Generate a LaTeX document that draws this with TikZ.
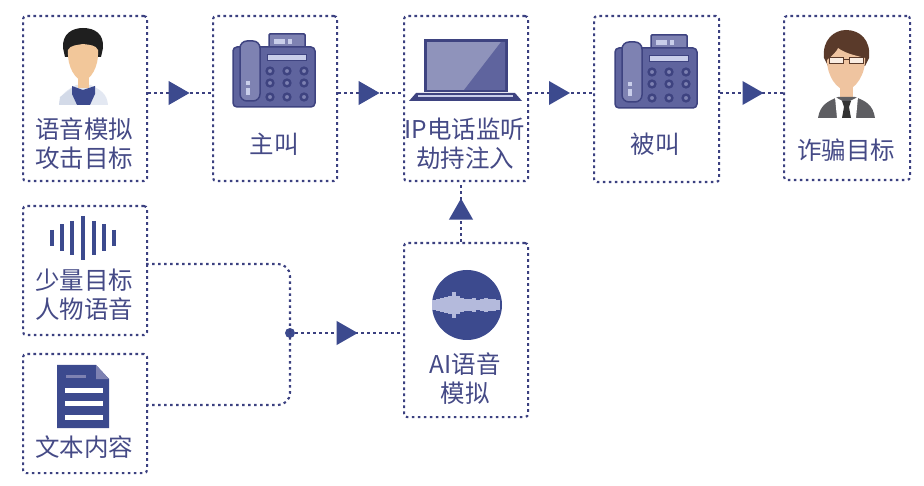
\documentclass[tikz,border=0pt]{standalone}
\usepackage{fontspec}
\setmainfont{Noto Sans CJK SC}
\usetikzlibrary{arrows.meta,decorations.markings,calc}
\definecolor{ink}{HTML}{3B4080}
\definecolor{tri}{HTML}{3C4A8E}
\definecolor{txt}{HTML}{454A86}
\definecolor{ph}{HTML}{5F649E}
\definecolor{phl}{HTML}{7E82B2}
\definecolor{phd}{HTML}{3E4380}
\definecolor{pale}{HTML}{C9CEEA}
\definecolor{skin}{HTML}{F2C79A}
\definecolor{skinb}{HTML}{EFC4A0}
\definecolor{brn}{HTML}{5A3A2A}
\definecolor{coat}{HTML}{E3E8F2}
\definecolor{coatb}{HTML}{D3DAE8}
\definecolor{suit}{HTML}{5E5E62}
\tikzset{
  x=1pt,y=-1pt,
  dots/.style={line width=2.1pt,color=ink,dash pattern=on 2.6pt off 3.4pt},
  box/.style={draw=ink,line width=2.1pt,dash pattern=on 2.6pt off 3.4pt,rounded corners=3pt,inner sep=0pt,anchor=north west},
  lab/.style={text=txt,font=\fontsize{24.5}{29}\selectfont,align=center,inner sep=0pt,anchor=center},
  link/.style={dots,postaction={decorate},decoration={markings,mark=at position #1 with {\arrow[tri,solid]{Triangle[length=21pt,width=23.5pt]}}}},
  link/.default=0.6
}
\newcommand{\phoneicon}[2]{\begin{scope}[shift={(#1,#2)}]
  \draw[phd,line width=1.5pt,fill=phl,rounded corners=1pt] (36,-13) rectangle (72,2);
  \fill[pale] (41,-8) rectangle (52,-3);
  \fill[pale] (55,-8) rectangle (59,-3);
  \draw[phd,line width=1.5pt,fill=ph,rounded corners=4pt] (0,0) rectangle (82,60);
  \draw[phd,line width=1.5pt,fill=phl,rounded corners=7pt] (7,-6) rectangle (27,54);
  \fill[pale] (13,34) rectangle (17,38);
  \fill[pale] (13,41) rectangle (17,48);
  \draw[phd,line width=1pt,fill=pale] (34,8) rectangle (73,14);
  \foreach \u in {37,54,71}\foreach \v in {24,36,50}
    \draw[phd,line width=2.4pt,fill=phl] (\u,\v) circle (3.4);
\end{scope}}
\begin{document}
\begin{tikzpicture}
\useasboundingbox (0,0) rectangle (924,486);
% boxes
\node[box,minimum width=124pt,minimum height=165pt] (A) at (22,15) {};
\node[box,minimum width=124pt,minimum height=165pt] (B) at (212,15) {};
\node[box,minimum width=124pt,minimum height=165pt] (C) at (403,15) {};
\node[box,minimum width=125pt,minimum height=166pt] (D) at (593,15) {};
\node[box,minimum width=126pt,minimum height=164pt] (E) at (783,15) {};
\node[box,minimum width=124pt,minimum height=129pt] (F) at (22,205) {};
\node[box,minimum width=124pt,minimum height=119pt] (G) at (22,353) {};
\node[box,minimum width=124pt,minimum height=174pt] (H) at (403,242) {};
% labels
\node[lab] (tA) at (84,143.5) {语音模拟\\攻击目标};
\node[lab] (tB) at (274,144) {主叫};
\node[lab] (tC) at (465,143.5) {IP电话监听\\劫持注入};
\node[lab] (tD) at (655,144) {被叫};
\node[lab] (tE) at (846,150) {诈骗目标};
\node[lab] (tF) at (84,295) {少量目标\\人物语音};
\node[lab] (tG) at (84,447) {文本内容};
\node[lab] (tH) at (465,379) {AI语音\\模拟};
% connectors
\node[circle,fill=tri,minimum size=10pt,inner sep=0pt] (J) at (290,333) {};
\coordinate (Fo) at (146,264);
\coordinate (Go) at (146,405);
\coordinate (Ha) at (403,333);
\draw[link=.65] (A.east |- 0,93) -- (B.west |- 0,93);
\draw[link=.64] (B.east |- 0,93) -- (C.west |- 0,93);
\draw[link=.64] (C.east |- 0,93) -- (D.west |- 0,93);
\draw[link=.69] (D.east |- 0,93) -- (E.west |- 0,93);
\draw[link=.726] (H.north -| 461,0) -- (C.south -| 461,0);
\draw[dots,rounded corners=12pt] (Fo) -| (J.center);
\draw[dots,rounded corners=12pt] (Go) -| (J.center);
\draw[link=.58] (J) -- (Ha);
% caller person
\fill[coat] (59,105) .. controls (60,93) and (68,90) .. (76,85) -- (91,85) .. controls (100,90) and (107,93) .. (108,105) -- cycle;
\fill[coatb] (59,105) -- (60,97) -- (72,88) -- (76,105) -- cycle;
\fill[skin] (78,76) rectangle (89,88);
\fill[black!88] (63,48) .. controls (62,34) and (72,28) .. (83,28) .. controls (95,28) and (104,34) .. (103,48) -- (101,57) -- (65,57) -- cycle;
\fill[skin] (68,50) .. controls (70,45) and (78,45) .. (83,44) .. controls (90,45) and (96,45) .. (98,50) .. controls (99,68) and (90,80) .. (83,81) .. controls (76,80) and (67,68) .. (68,50) -- cycle;
\fill[tri] (72,86) -- (83,90) -- (95,86) -- (95,94) -- (90,105) -- (77,105) -- (72,94) -- cycle;
% phones
\phoneicon{233}{47}
\phoneicon{615}{48}
% laptop
\fill[phd] (424,39) rectangle (508,92);
\fill[ph!70!white] (427,42) rectangle (505,90);
\fill[ph] (501,42) -- (505,42) -- (505,90) -- (464,90) -- cycle;
\fill[phd] (409,101) -- (416,93) -- (515,93) -- (522,101) -- cycle;
\fill[pale] (418,95) rectangle (513,97.5);
% speech wave
\foreach \u/\h in {52/8,62/13.5,72/17,83/22,94/17,104/13.5,114/8}
  \draw[tri,line width=3.2pt] (\u,238-\h) -- (\u,238+\h);
% document
\fill[tri] (57,365) -- (96,365) -- (109,379) -- (109,428) -- (57,428) -- cycle;
\fill[phl] (96,365) -- (109,379) -- (96,379) -- cycle;
\fill[phl] (66,375.5) rectangle (86,377.5);
\foreach \v in {390,403.5,417} \fill[white] (65,\v-2.5) rectangle (103,\v+2.5);
% voice circle
\fill[tri] (467,305) circle (35);
\foreach \u/\h in {434/5,438/6,442/7,446/8,450/9,454/13,458/9,462/7,466/6,470/6,474/7,478/5,482/6,486/7,490/6,494/6,498/5}
  \draw[pale!85!tri,line width=3.6pt] (\u,305-\h) -- (\u,305+\h);
% target person
\fill[skinb] (840,85) rectangle (853,102);
\fill[suit] (818,118) .. controls (820,105) and (828,101) .. (838,97) -- (855,97) .. controls (866,101) and (873,105) .. (875,118) -- cycle;
\fill[white] (835,97) -- (846,103) -- (858,97) -- (856,118) -- (837,118) -- cycle;
\fill[black!80] (842,101) -- (851,101) -- (849,107) -- (851,118) -- (842,118) -- (844,107) -- cycle;
\fill[brn] (824,58) .. controls (822,40) and (834,30) .. (846,30) .. controls (860,30) and (871,40) .. (869,58) -- (865,66) -- (828,66) -- cycle;
\fill[skinb] (827,60) .. controls (832,56) and (838,50) .. (838,48) .. controls (846,54) and (858,56) .. (865,58) .. controls (866,74) and (855,90) .. (846,90) .. controls (837,90) and (827,76) .. (827,60) -- cycle;
\draw[brn,line width=1pt,fill=white!70!skinb] (829,58) rectangle (843,64);
\draw[brn,line width=1pt,fill=white!70!skinb] (849,58) rectangle (863,64);
\draw[brn,line width=1pt] (843,60) -- (849,60);
\end{tikzpicture}
\end{document}
